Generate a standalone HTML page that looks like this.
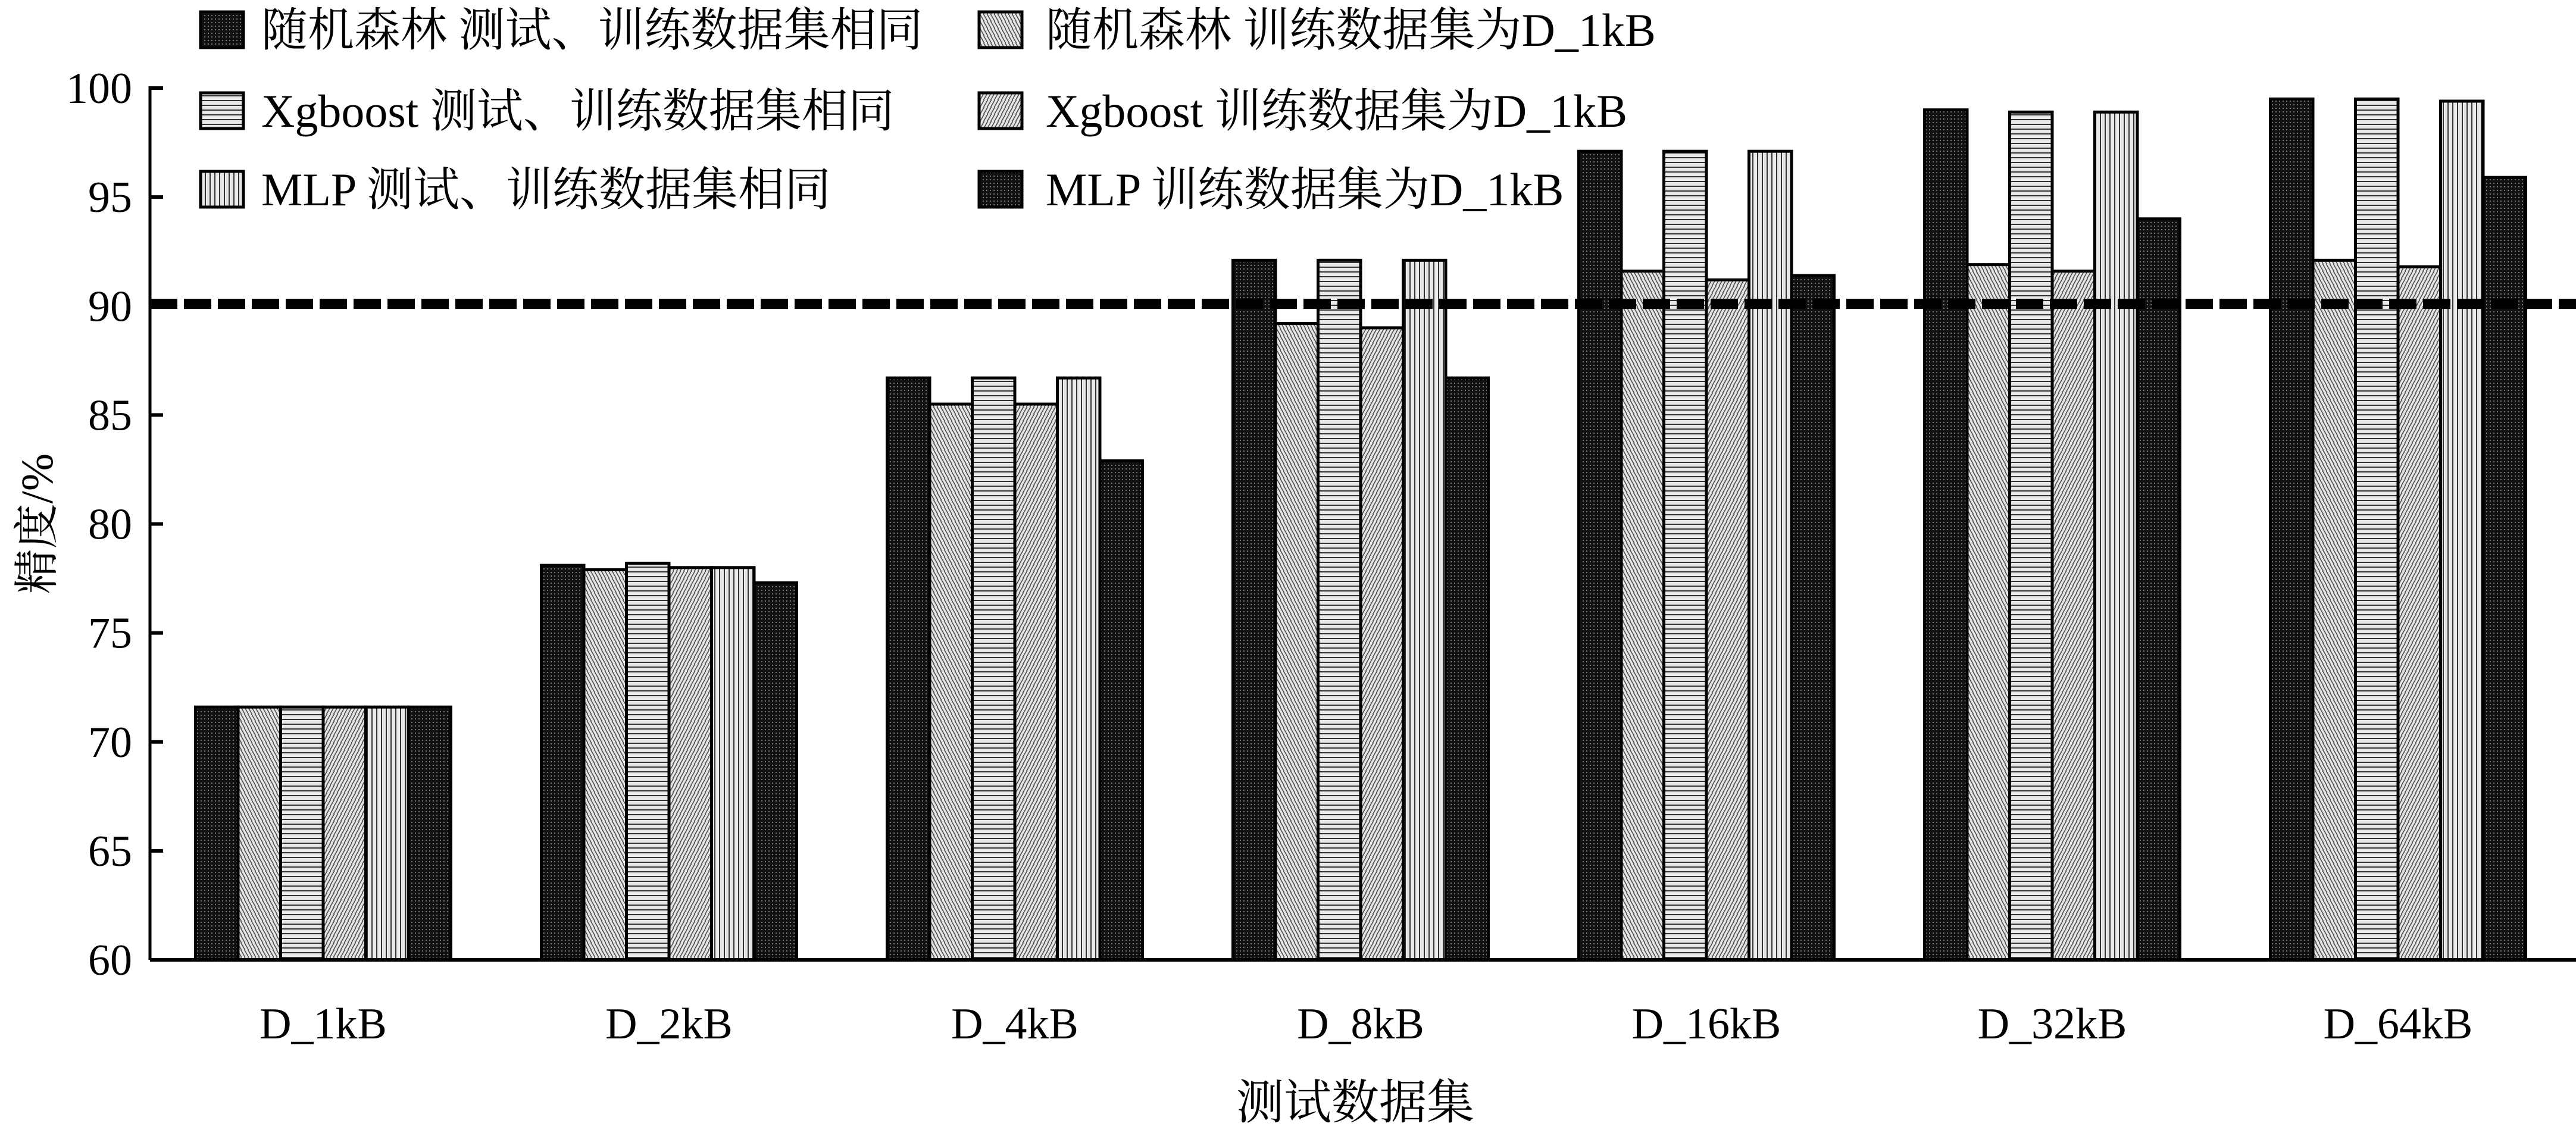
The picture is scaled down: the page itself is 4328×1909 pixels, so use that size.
<!DOCTYPE html>
<html><head><meta charset="utf-8">
<style>
html,body{margin:0;padding:0;background:#fff;}
svg{display:block;}
text{font-family:"Liberation Serif","Noto Serif CJK SC",serif;fill:#000;}
</style></head>
<body>
<svg id="chart" width="4328" height="1909" viewBox="0 0 4328 1909" xmlns="http://www.w3.org/2000/svg">
<defs>
<pattern id="p-dots" width="6" height="6" patternUnits="userSpaceOnUse">
<rect width="6" height="6" fill="#111"/><rect x="1" y="1" width="2" height="2" fill="#777"/>
</pattern>
<pattern id="p-back" width="12" height="12" patternUnits="userSpaceOnUse">
<rect width="12" height="12" fill="#e4e4e4"/><path d="M-2,-8 L14,20 M-8,-8 L8,20 M4,-8 L20,20" stroke="#444" stroke-width="1.5"/>
</pattern>
<pattern id="p-horiz" width="10" height="8" patternUnits="userSpaceOnUse">
<rect width="10" height="8" fill="#e8e8e8"/><rect y="0" width="10" height="2" fill="#333"/>
</pattern>
<pattern id="p-fwd" width="12" height="12" patternUnits="userSpaceOnUse">
<rect width="12" height="12" fill="#e4e4e4"/><path d="M-2,20 L14,-8 M-8,20 L8,-8 M4,20 L20,-8" stroke="#444" stroke-width="1.5"/>
</pattern>
<pattern id="p-vert" width="8" height="10" patternUnits="userSpaceOnUse">
<rect width="8" height="10" fill="#e8e8e8"/><rect x="0" width="2" height="10" fill="#333"/>
</pattern>
</defs>
<g id="bars"></g>
<g id="axes"></g>
<g id="legend"></g>
<text x="2277" y="1880" font-size="80" text-anchor="middle">测试数据集</text>
<text x="0" y="0" font-size="76" text-anchor="middle" transform="translate(88,880) rotate(-90)">精度/%</text>
</svg>
<script>
const categories = ["D_1kB","D_2kB","D_4kB","D_8kB","D_16kB","D_32kB","D_64kB"];
const rfSame = [71.6, 78.1, 86.7, 92.1, 97.1, 99.0, 99.5];
const rfD1k = [71.6, 77.9, 85.5, 89.2, 91.6, 91.9, 92.1];
const xgSame = [71.6, 78.2, 86.7, 92.1, 97.1, 98.9, 99.5];
const xgD1k = [71.6, 78.0, 85.5, 89.0, 91.2, 91.6, 91.8];
const mlpSame = [71.6, 78.0, 86.7, 92.1, 97.1, 98.9, 99.4];
const mlpD1k = [71.6, 77.3, 82.9, 86.7, 91.4, 94.0, 95.9];
const seriesNames = ["随机森林 测试、训练数据集相同","随机森林 训练数据集为D_1kB","Xgboost 测试、训练数据集相同","Xgboost 训练数据集为D_1kB","MLP 测试、训练数据集相同","MLP 训练数据集为D_1kB"];
const yTicks = [60,65,70,75,80,85,90,95,100];
const threshold = 90.1;

const NS="http://www.w3.org/2000/svg";
const series=[rfSame,rfD1k,xgSame,xgD1k,mlpSame,mlpD1k];
const fills=["url(#p-dots)","url(#p-back)","url(#p-horiz)","url(#p-fwd)","url(#p-vert)","url(#p-dots)"];
const X0=252, Y60=1613, Y100=148;
function y(v){return Y60-(v-60)/40*(Y60-Y100);}
function xc(i){return 543+i*581;}
const BW=71.5;
function mk(tag,attrs,parent){const e=document.createElementNS(NS,tag);for(const k in attrs)e.setAttribute(k,attrs[k]);parent.appendChild(e);return e;}
const gb=document.getElementById('bars');
categories.forEach((c,i)=>{
  series.forEach((s,j)=>{
    const x=xc(i)+(j-3)*BW;
    const r=mk('rect',{x:x,y:y(s[i]),width:BW,height:Y60-y(s[i]),fill:fills[j],stroke:'#000','stroke-width':5},gb);
    
    
  });
});
const ga=document.getElementById('axes');
const tl=mk('line',{x1:X0,y1:y(threshold),x2:4328,y2:y(threshold),stroke:'#000','stroke-width':17,'stroke-dasharray':'46 11'},ga);


const ya=mk('line',{x1:X0,y1:Y100-3,x2:X0,y2:Y60,stroke:'#000','stroke-width':5},ga);


const xa=mk('line',{x1:X0,y1:Y60,x2:4328,y2:Y60,stroke:'#000','stroke-width':6},ga);


yTicks.forEach(t=>{
  const tk=mk('line',{x1:X0,y1:y(t),x2:X0+22,y2:y(t),stroke:'#000','stroke-width':6},ga);
  
  
  const tx=mk('text',{x:222,y:y(t)+25,'font-size':74,'text-anchor':'end'},ga);
  tx.textContent=t;
  
  
});
categories.forEach((c,i)=>{
  const tx=mk('text',{x:xc(i),y:1745,'font-size':74,'text-anchor':'middle'},ga);
  tx.textContent=c;
  
  
});
const gl=document.getElementById('legend');
const legPos=[[337,50],[1645,50],[337,186],[1645,186],[337,318],[1645,318]];
seriesNames.forEach((n,j)=>{
  const [lx,ly]=legPos[j];
  const g=mk('g',{},gl);
  
  
  mk('rect',{x:lx,y:ly-30,width:72,height:60,fill:fills[j],stroke:'#000','stroke-width':5},g);
  const tx=mk('text',{x:lx+(j%2?112:102),y:ly+27,'font-size':78},g);
  tx.textContent=n;
});
</script>
</body></html>
